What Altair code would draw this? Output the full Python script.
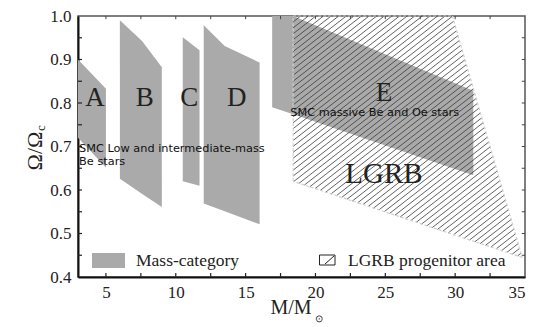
import altair as alt
import numpy as np
import pandas as pd

# ---- data ----
# Mass categories: x positions with upper and lower Omega/Omega_c edges
A_x, A_top, A_bot = [3.0, 5.0], [0.90, 0.833], [0.72, 0.652]
B_x, B_top, B_bot = [6.0, 7.6, 9.0], [0.99, 0.942, 0.882], [0.626, 0.591, 0.561]
C_x, C_top, C_bot = [10.5, 11.7], [0.951, 0.921], [0.620, 0.610]
D_x, D_top, D_bot = [12.0, 13.5, 16.0], [0.979, 0.931, 0.893], [0.569, 0.551, 0.521]
E_x, E_top, E_bot = [16.9, 18.4, 31.3], [1.0, 1.0, 0.828], [0.79, 0.774, 0.634]
# LGRB progenitor area
LG_x, LG_top, LG_bot = [18.4, 29.8, 34.8], [1.0, 1.0, 0.445], [0.62, 0.498, 0.445]

cat_labels = ["A", "B", "C", "D", "E"]
cat_label_x = [4.22, 7.77, 10.96, 14.36, 24.9]
cat_label_y = [0.812, 0.812, 0.812, 0.812, 0.823]

x_tick_labels = [5, 10, 15, 20, 25, 30, 35]
y_tick_labels = [0.4, 0.5, 0.6, 0.7, 0.8, 0.9, 1.0]
x_minor = [5, 7.5, 10, 12.5, 15, 17.5, 20, 22.5, 25, 27.5, 30, 32.5]
y_minor = [0.45, 0.5, 0.55, 0.6, 0.65, 0.7, 0.75, 0.8, 0.85, 0.9, 0.95]

W, H = 447, 261
XD, YD = [3, 35], [0.4, 1.0]
px_x = W / (XD[1] - XD[0])
px_y = H / (YD[1] - YD[0])

xsc = alt.Scale(domain=XD, nice=False, zero=False)
ysc = alt.Scale(domain=YD, nice=False, zero=False)


def region_layer(xs_, ts, bs, first=False):
    df = pd.DataFrame(dict(x=xs_, yt=ts, yb=bs))
    if first:
        xenc = alt.X("x:Q", scale=xsc, axis=alt.Axis(values=x_tick_labels, format="d"), title=None)
        yenc = alt.Y("yt:Q", scale=ysc, axis=alt.Axis(values=y_tick_labels, format=".1f"), title=None)
    else:
        xenc = alt.X("x:Q", scale=xsc)
        yenc = alt.Y("yt:Q", scale=ysc)
    return alt.Chart(df).mark_area(color="#aaaaaa", opacity=1).encode(x=xenc, y=yenc, y2="yb:Q")


areas = [region_layer(A_x, A_top, A_bot, first=True),
         region_layer(B_x, B_top, B_bot),
         region_layer(C_x, C_top, C_bot),
         region_layer(D_x, D_top, D_bot),
         region_layer(E_x, E_top, E_bot)]

# hatch lines derived from the LGRB polygon
s = 0.78 * px_x / px_y
d = 7.6 / px_x
xs = np.arange(LG_x[0], LG_x[-1] + 1e-9, 0.002)
tp = np.interp(xs, LG_x, LG_top)
bt = np.interp(xs, LG_x, LG_bot)
segs = []
for xo in np.arange(LG_x[0] - (1.0 - 0.44) / s, LG_x[-1], d):
    yl = 0.44 + s * (xs - xo)
    inside = (yl >= bt) & (yl <= tp)
    if inside.any():
        xi = xs[inside]
        segs.append(dict(x=xi[0], y=0.44 + s * (xi[0] - xo), x2=xi[-1], y2=0.44 + s * (xi[-1] - xo)))
hatch_df = pd.DataFrame(segs)

hatch = alt.Chart(hatch_df).mark_rule(color="#3a3a3a", strokeWidth=0.8).encode(
    x=alt.X("x:Q", scale=xsc), y=alt.Y("y:Q", scale=ysc), x2="x2:Q", y2="y2:Q")

ol_x = [LG_x[0], LG_x[1], LG_x[2], LG_x[0], LG_x[0]]
ol_y = [LG_top[0], LG_top[1], LG_top[2], LG_bot[0], LG_top[0]]
outline_df = pd.DataFrame(dict(x=ol_x[:-1], y=ol_y[:-1], x2=ol_x[1:], y2=ol_y[1:]))
outline = alt.Chart(outline_df).mark_rule(color="#d0d0d0", strokeWidth=1.2, strokeDash=[3, 2]).encode(
    x=alt.X("x:Q", scale=xsc), y=alt.Y("y:Q", scale=ysc), x2="x2:Q", y2="y2:Q")

lab_df = pd.DataFrame(dict(t=cat_labels, x=cat_label_x, y=cat_label_y))
labels = alt.Chart(lab_df).mark_text(font="Liberation Serif", fontSize=27, color="#222222").encode(
    x=alt.X("x:Q", scale=xsc), y=alt.Y("y:Q", scale=ysc), text="t:N")

lgrb_lab = alt.Chart(pd.DataFrame(dict(t=["LGRB"], x=[24.9], y=[0.6375]))).mark_text(
    font="Liberation Serif", fontSize=29, color="#222222").encode(
    x=alt.X("x:Q", scale=xsc), y=alt.Y("y:Q", scale=ysc), text="t:N")

smc_df = pd.DataFrame(dict(t=["SMC Low and intermediate-mass", "Be stars", "SMC massive Be and Oe stars"],
                           x=[3.08, 3.08, 18.2], y=[0.694, 0.665, 0.778]))
smc = alt.Chart(smc_df).mark_text(font="DejaVu Sans", fontSize=11.3, color="#111111", align="left").encode(
    x=alt.X("x:Q", scale=xsc), y=alt.Y("y:Q", scale=ysc), text="t:N")

# inward minor ticks, drawn as rules in data units
tlx = 4 / px_x
tly = 4 / px_y
xt_df = pd.DataFrame(dict(v=x_minor, b0=[YD[0]] * len(x_minor), b1=[YD[0] + tly] * len(x_minor),
                          t0=[YD[1]] * len(x_minor), t1=[YD[1] - 0.8 * tly] * len(x_minor)))
yt_df = pd.DataFrame(dict(v=y_minor, l0=[XD[0]] * len(y_minor), l1=[XD[0] + tlx] * len(y_minor),
                          r0=[XD[1]] * len(y_minor), r1=[XD[1] - 0.8 * tlx] * len(y_minor)))
tb = alt.Chart(xt_df).mark_rule(color="#222222", strokeWidth=1.2).encode(
    x=alt.X("v:Q", scale=xsc), y=alt.Y("b0:Q", scale=ysc), y2="b1:Q")
tt = alt.Chart(xt_df).mark_rule(color="#444444", strokeWidth=1).encode(
    x=alt.X("v:Q", scale=xsc), y=alt.Y("t0:Q", scale=ysc), y2="t1:Q")
tl = alt.Chart(yt_df).mark_rule(color="#222222", strokeWidth=1.2).encode(
    y=alt.Y("v:Q", scale=ysc), x=alt.X("l0:Q", scale=xsc), x2="l1:Q")
tr = alt.Chart(yt_df).mark_rule(color="#444444", strokeWidth=1).encode(
    y=alt.Y("v:Q", scale=ysc), x=alt.X("r0:Q", scale=xsc), x2="r1:Q")

one = pd.DataFrame(dict(k=[0]))


def txt(t, x, y, size, font="Liberation Serif", angle=0, align="center"):
    return alt.Chart(one).mark_text(font=font, fontSize=size, color="#222222", angle=angle,
                                    align=align, baseline="middle").encode(
        x=alt.value(x), y=alt.value(y), text=alt.value(t))


ytitle = txt("Ω/Ω", -43, 135, 22, angle=270)
ysub = txt("c", -37, 112, 13, angle=270)
xtitle = txt("M/M", 213, 292, 20)
xsub = txt("⊙", 240.5, 302.5, 10)

# legend
leg_rect = alt.Chart(one).mark_rect(color="#aaaaaa").encode(
    x=alt.value(14), x2=alt.value(47), y=alt.value(237), y2=alt.value(252))
leg_t1 = txt("Mass-category", 58, 245, 17.5, align="left")
leg_box = alt.Chart(one).mark_rect(fill="white", stroke="#222222", strokeWidth=1).encode(
    x=alt.value(241.5), x2=alt.value(257), y=alt.value(239), y2=alt.value(249))
leg_diag = alt.Chart(one).mark_rule(color="#222222", strokeWidth=1).encode(
    x=alt.value(247), x2=alt.value(256), y=alt.value(248), y2=alt.value(240))
leg_t2 = txt("LGRB progenitor area", 270, 245, 17.5, align="left")

chart = alt.layer(
    *areas, hatch, outline, labels, lgrb_lab, smc, tb, tt, tl, tr,
    ytitle, ysub, xtitle, xsub, leg_rect, leg_t1, leg_box, leg_diag, leg_t2
).properties(
    width=W, height=H,
    autosize=alt.AutoSizeParams(type="none"),
    padding={"left": 70, "top": 8, "right": 12, "bottom": 48},
).configure_view(
    stroke="#555555", strokeWidth=1.5
).configure_axis(
    labelFont="Liberation Serif", labelFontSize=17, labelColor="#222222",
    ticks=False, tickSize=0, grid=False, domainColor="#111111", domainWidth=2,
    labelPadding=7
)

chart.save("out.html", embed_options={"renderer": "svg", "actions": False})
